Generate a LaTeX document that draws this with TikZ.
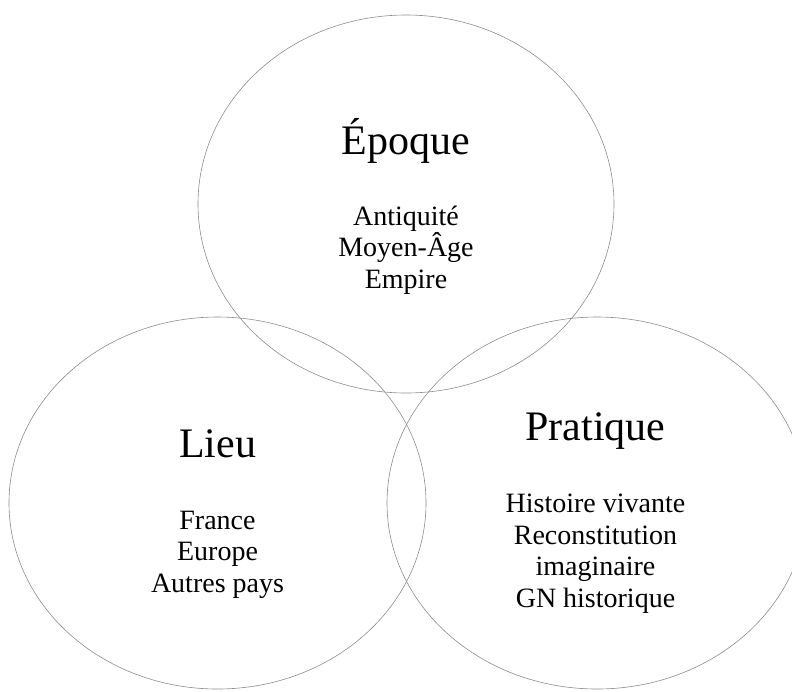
\documentclass[tikz,border=0pt]{standalone}
\usepackage{fontspec}
\setmainfont{Liberation Serif}
\newcommand\titrefont{\fontsize{42}{48}\selectfont}
\newcommand\listefont{\fontsize{28}{31.5}\selectfont}

\begin{document}
\begin{tikzpicture}[x=1pt,y=-1pt]
		\useasboundingbox (0,0) rectangle (792,691);
		\clip (0,0) rectangle (792,691);
		\draw[black!45, line width=0.6pt] (406,204) ellipse (208pt and 189pt);
		\draw[black!45, line width=0.6pt] (217.5,503) ellipse (208.5pt and 186pt);
		\draw[black!45, line width=0.6pt] (597,503) ellipse (210pt and 186pt);
		\node[anchor=base, font=\titrefont] (epoque) at (406,154) {Époque};
		\node[anchor=base, align=center, font=\listefont] (epoqueliste) at (406,288) {Antiquité\\Moyen-Âge\\Empire};
		\node[anchor=base, font=\titrefont] (lieu) at (217.5,457) {Lieu};
		\node[anchor=base, align=center, font=\listefont] (lieuliste) at (217.5,592) {France\\Europe\\Autres pays};
		\node[anchor=base, font=\titrefont] (pratique) at (595.5,440) {Pratique};
		\node[anchor=base, align=center, font=\listefont] (pratiqueliste) at (595.5,607) {Histoire vivante\\Reconstitution\\imaginaire\\GN historique};
	\end{tikzpicture}
\end{document}
